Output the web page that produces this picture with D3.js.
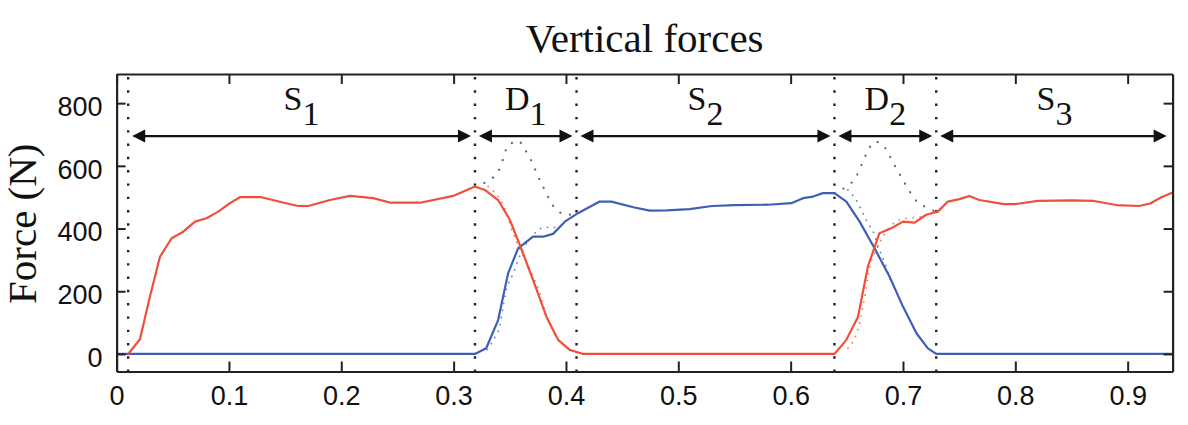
<!DOCTYPE html>
<html>
<head>
<meta charset="utf-8">
<script src="https://cdn.jsdelivr.net/npm/d3@7"></script>
<style>
  body { margin: 0; background: #fff; }
  svg { display: block; }
</style>
</head>
<body>
<svg width="1188" height="425"></svg>
<script>
// ---- data ----
var xTicks = [0, 0.1, 0.2, 0.3, 0.4, 0.5, 0.6, 0.7, 0.8, 0.9];
var xTickLabels = ["0", "0.1", "0.2", "0.3", "0.4", "0.5", "0.6", "0.7", "0.8", "0.9"];
var yTicks = [0, 200, 400, 600, 800];

// phase boundaries (s) and their names
var bounds = [0.0103, 0.319, 0.4094, 0.639, 0.7296, 0.94];
var phaseNames = ["S", "D", "S", "D", "S"];
var phaseSubs = ["1", "1", "2", "2", "3"];
var arrowLevel = 695;

// measured force, leg A (red)
var redPts = [
  [0.0103, 0], [0.0208, 47], [0.0297, 183], [0.0386, 310], [0.049, 369], [0.0593, 390],
  [0.0698, 422], [0.080, 433], [0.0905, 454], [0.1009, 481], [0.1098, 500], [0.129, 500],
  [0.148, 483], [0.1617, 472], [0.1706, 472], [0.1899, 491], [0.2077, 504], [0.2284, 497],
  [0.2432, 483], [0.2714, 483], [0.2996, 504], [0.319, 534], [0.3278, 523], [0.3396, 491],
  [0.35, 428], [0.3589, 348], [0.3707, 236], [0.3826, 119], [0.393, 45], [0.4034, 13],
  [0.4152, 0], [0.639, 0], [0.6496, 45], [0.66, 119], [0.6688, 279], [0.679, 385],
  [0.6896, 401], [0.70, 422], [0.7103, 419], [0.7207, 444], [0.731, 454], [0.74, 486],
  [0.7503, 494], [0.759, 504], [0.768, 491], [0.79, 478], [0.80, 478], [0.82, 488],
  [0.85, 490], [0.87, 488], [0.89, 475], [0.91, 472], [0.92, 480], [0.93, 500], [0.94, 515]
];

// measured force, leg B (blue)
var bluePts = [
  [0, 0], [0.319, 0], [0.329, 18], [0.3396, 108], [0.3485, 257], [0.3574, 337],
  [0.3707, 374], [0.3796, 374], [0.3885, 383], [0.399, 422], [0.4107, 449], [0.43, 486],
  [0.4405, 486], [0.46, 468], [0.4746, 457], [0.49, 458], [0.51, 462], [0.53, 472],
  [0.55, 475], [0.58, 476], [0.6006, 481], [0.611, 497], [0.62, 502], [0.6287, 513],
  [0.639, 513], [0.6496, 486], [0.6614, 422], [0.6747, 337], [0.688, 247], [0.70, 151],
  [0.712, 66], [0.7222, 18], [0.7296, 0], [0.94, 0]
];

// total force during double support (grey dotted)
var sumD1 = [
  [0.319, 534], [0.3307, 553], [0.34, 584], [0.344, 621], [0.3476, 659], [0.3574, 680],
  [0.364, 649], [0.370, 610], [0.3746, 571], [0.3796, 534], [0.3856, 491], [0.3915, 459],
  [0.4019, 444], [0.4094, 449]
];
var sumD2 = [
  [0.639, 513], [0.6496, 534], [0.6585, 566], [0.663, 603], [0.668, 642], [0.6747, 677],
  [0.682, 667], [0.688, 632], [0.694, 592], [0.70, 555], [0.706, 518], [0.7124, 486],
  [0.7207, 468], [0.7296, 454]
];

// model estimates (sparse dots)
var redModel1 = [
  [0.3307, 534], [0.34, 500], [0.346, 462], [0.352, 393], [0.359, 335], [0.3707, 247],
  [0.3767, 194], [0.381, 140], [0.3856, 98], [0.39, 61]
];
var redModel2 = [
  [0.651, 18], [0.661, 93], [0.666, 183], [0.6688, 247], [0.679, 353], [0.6994, 430], [0.7207, 438]
];
var blueModel1 = [
  [0.330, 14], [0.3367, 53], [0.341, 87], [0.344, 151], [0.347, 204], [0.353, 257],
  [0.3574, 300], [0.3722, 385], [0.381, 404], [0.39, 404]
];
var blueModel2 = [
  [0.651, 523], [0.66, 481], [0.6658, 438], [0.6688, 417], [0.6747, 380], [0.678, 342],
  [0.684, 289], [0.6896, 226]
];

// ---- layout ----
var svg = d3.select("svg");
var plotLeft = 116.6, plotRight = 1172.6, plotTop = 74, plotBottom = 371.5;

var x = d3.scaleLinear().domain([0, 0.94]).range([plotLeft, plotRight]);
var y = d3.scaleLinear().domain([-56, 893]).range([plotBottom, plotTop]);

var red = "#ef4f3b", blue = "#3f5fb6";
var serif = "'Liberation Serif', 'Times New Roman', serif";

// title
svg.append("text")
    .attr("x", (plotLeft + plotRight) / 2)
    .attr("y", 52)
    .attr("text-anchor", "middle")
    .style("font-family", serif)
    .style("font-size", "41px")
    .style("fill", "#111")
    .text("Vertical forces");

// y label
svg.append("text")
    .attr("transform", "translate(36," + ((plotTop + plotBottom) / 2 + 1) + ") rotate(-90)")
    .attr("text-anchor", "middle")
    .style("font-family", serif)
    .style("font-size", "41px")
    .style("fill", "#111")
    .text("Force (N)");

// phase boundaries (dotted verticals)
svg.append("g").selectAll("line")
    .data(bounds.slice(0, bounds.length - 1))
  .enter().append("line")
    .attr("x1", d => x(d)).attr("x2", d => x(d))
    .attr("y1", plotTop + 3).attr("y2", plotBottom)
    .attr("stroke", "#222")
    .attr("stroke-width", 2.4)
    .attr("stroke-dasharray", "2.4,10.9");

// grey dotted sum curves and model dots
var line = d3.line().x(d => x(d[0])).y(d => y(d[1])).curve(d3.curveMonotoneX);

[sumD1, sumD2].forEach(function(pts) {
    svg.append("path")
        .attr("d", line(pts))
        .attr("fill", "none")
        .attr("stroke", "#666")
        .attr("stroke-width", 2.2)
        .attr("stroke-linecap", "round")
        .attr("stroke-dasharray", "0.1,10");
});

[[redModel1, red], [redModel2, red], [blueModel1, blue], [blueModel2, blue]].forEach(function(m) {
    svg.append("path")
        .attr("d", line(m[0]))
        .attr("fill", "none")
        .attr("stroke", m[1])
        .attr("stroke-opacity", 0.75)
        .attr("stroke-width", 1.8)
        .attr("stroke-linecap", "round")
        .attr("stroke-dasharray", "0.1,7");
});

// measured curves
var line2 = d3.line().x(d => x(d[0])).y(d => y(d[1]));
svg.append("path")
    .attr("d", line2(bluePts))
    .attr("fill", "none")
    .attr("stroke", blue)
    .attr("stroke-width", 2.2)
    .attr("stroke-linejoin", "round");
svg.append("path")
    .attr("d", line2(redPts))
    .attr("fill", "none")
    .attr("stroke", red)
    .attr("stroke-width", 2.2)
    .attr("stroke-linejoin", "round");

// phase arrows
var ay = y(arrowLevel), gap = 4, headLen = 13, headHalf = 6.5;
var arrows = svg.append("g");
d3.range(phaseNames.length).forEach(function(i) {
    var x0 = x(bounds[i]) + gap, x1 = x(bounds[i + 1]) - gap;
    if (i === phaseNames.length - 1) x1 = x(bounds[i + 1]) - 6;
    arrows.append("line")
        .attr("x1", x0 + 4).attr("x2", x1 - 4)
        .attr("y1", ay).attr("y2", ay)
        .attr("stroke", "#111").attr("stroke-width", 2.2);
    arrows.append("path")
        .attr("d", "M" + x0 + "," + ay + "L" + (x0 + headLen) + "," + (ay - headHalf) +
              "L" + (x0 + headLen) + "," + (ay + headHalf) + "Z")
        .attr("fill", "#111");
    arrows.append("path")
        .attr("d", "M" + x1 + "," + ay + "L" + (x1 - headLen) + "," + (ay - headHalf) +
              "L" + (x1 - headLen) + "," + (ay + headHalf) + "Z")
        .attr("fill", "#111");

    var t = arrows.append("text")
        .attr("x", (x(bounds[i]) + x(bounds[i + 1])) / 2)
        .attr("y", 110)
        .attr("text-anchor", "middle")
        .style("font-family", serif)
        .style("font-size", "34px")
        .style("fill", "#111");
    t.append("tspan").text(phaseNames[i]);
    t.append("tspan").attr("dy", 15).text(phaseSubs[i]);
});

// axes (box with inward ticks)
function styleAxis(g) {
    g.selectAll(".domain").attr("stroke", "#222").attr("stroke-width", 2.2);
    g.selectAll(".tick line").attr("stroke", "#222").attr("stroke-width", 2);
    g.selectAll("text")
        .style("font-family", "'Liberation Sans', Arial, Helvetica, sans-serif")
        .style("font-size", "27px")
        .style("fill", "#111");
}

svg.append("g")
    .attr("transform", "translate(0," + plotBottom + ")")
    .call(d3.axisBottom(x).tickValues(xTicks).tickSize(-10).tickSizeOuter(0).tickPadding(14)
          .tickFormat((d, i) => xTickLabels[i]))
    .call(styleAxis);

svg.append("g")
    .attr("transform", "translate(0," + plotTop + ")")
    .call(d3.axisTop(x).tickValues(xTicks).tickSize(-10).tickSizeOuter(0).tickFormat(""))
    .call(styleAxis);

svg.append("g")
    .attr("transform", "translate(" + plotLeft + ",0)")
    .call(d3.axisLeft(y).tickValues(yTicks).tickSize(-9).tickSizeOuter(0).tickPadding(14))
    .call(styleAxis)
    .selectAll("text").attr("dy", "0.45em");

svg.append("g")
    .attr("transform", "translate(" + plotRight + ",0)")
    .call(d3.axisRight(y).tickValues(yTicks).tickSize(-9).tickSizeOuter(0).tickFormat(""))
    .call(styleAxis);
</script>
</body>
</html>
